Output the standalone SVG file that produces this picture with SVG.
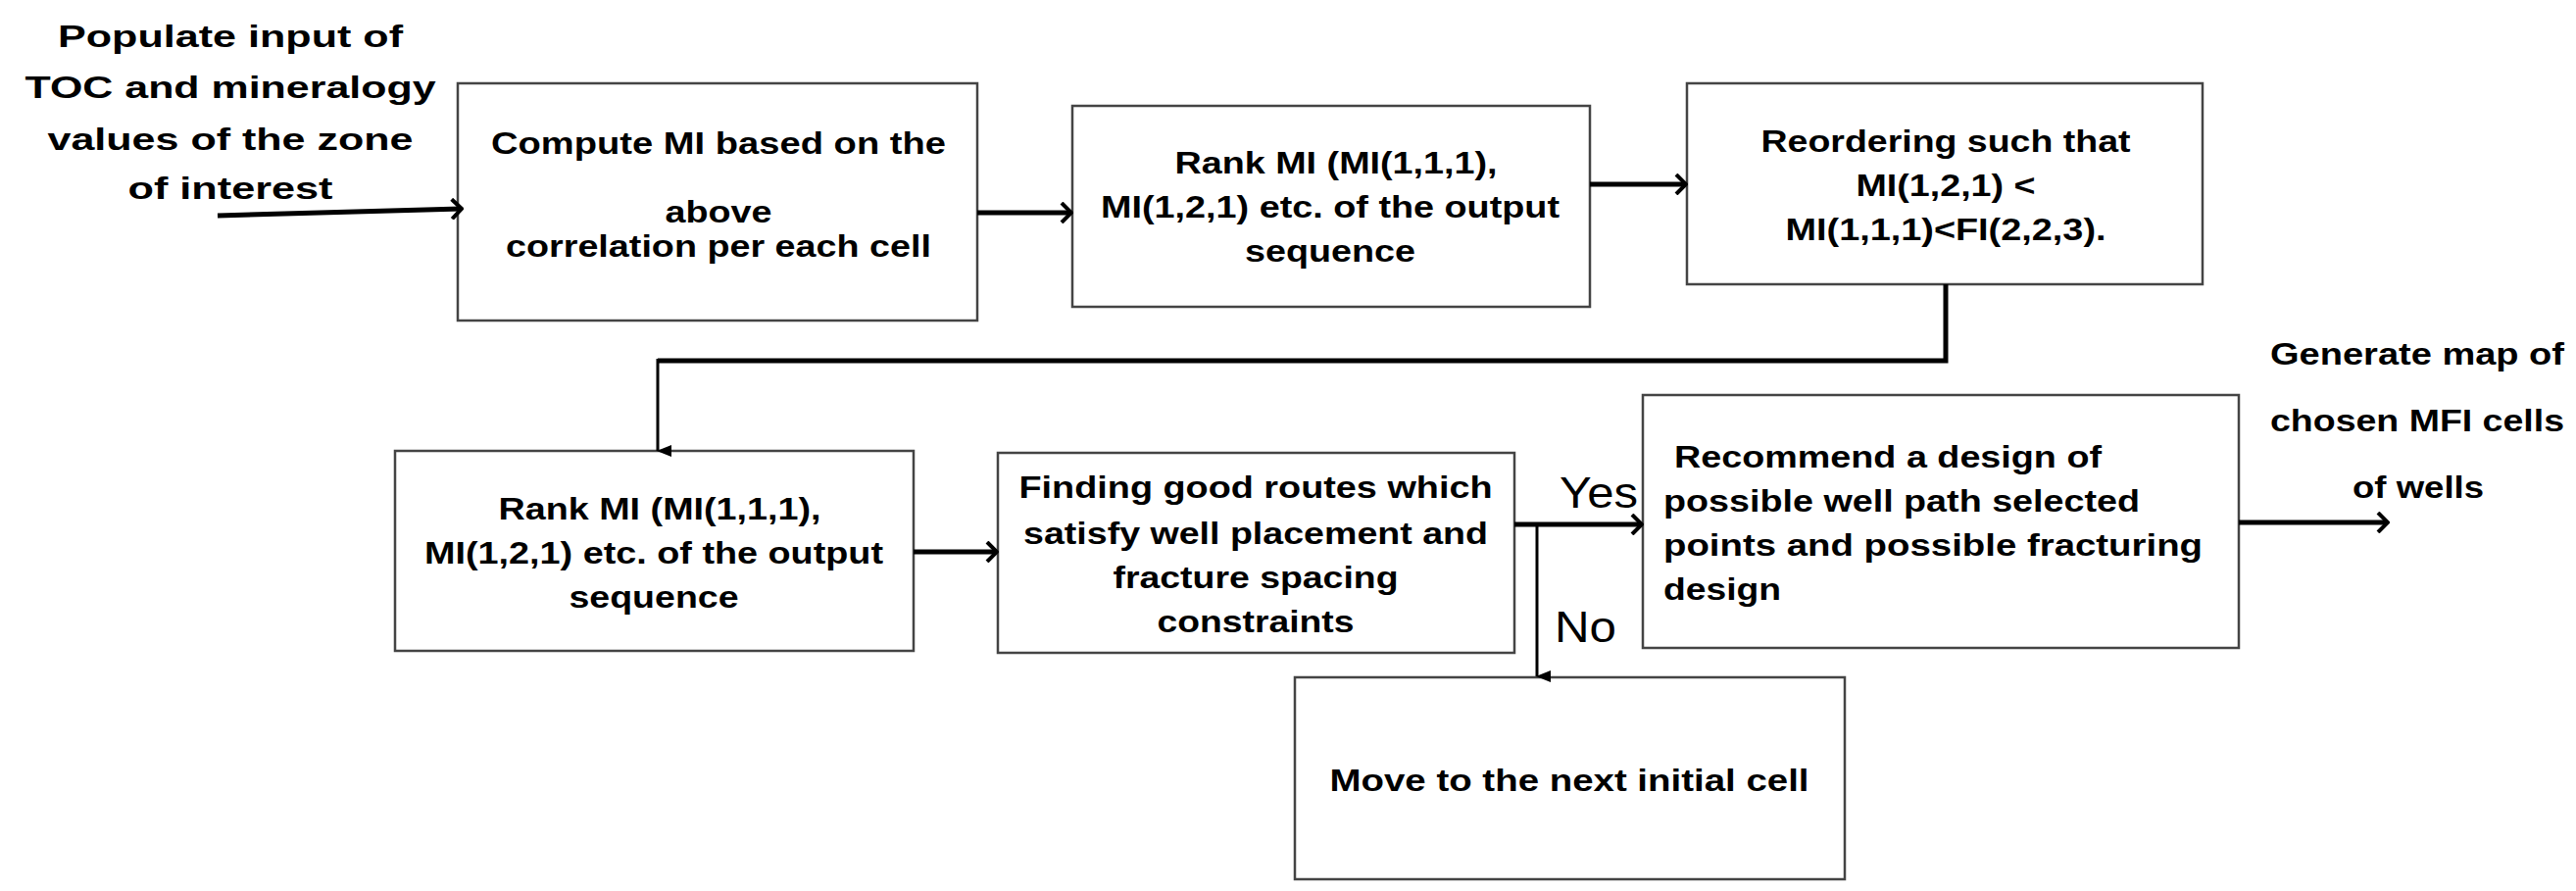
<svg xmlns="http://www.w3.org/2000/svg" width="2628" height="909" viewBox="0 0 2628 909">
<style>
.box{fill:#fff;stroke:#444;stroke-width:2.5}
.t{font-family:"Liberation Sans",Arial,sans-serif;font-weight:bold;font-size:32px;fill:#000}
.c{text-anchor:middle}
.yn{font-family:"Liberation Sans",Arial,sans-serif;font-size:44px;fill:#000}
.ln{fill:none;stroke:#000;stroke-width:5}
.thin{fill:none;stroke:#000;stroke-width:3}
</style>
<defs>
<marker id="ah2" markerWidth="14" markerHeight="22" refX="11" refY="11" orient="auto" markerUnits="userSpaceOnUse" viewBox="0 0 14 22">
<path d="M2,1 L12,11 L2,21" fill="none" stroke="#000" stroke-width="4"/>
</marker>
<marker id="ah3" markerWidth="14" markerHeight="16" refX="7" refY="14" orient="auto" markerUnits="userSpaceOnUse" viewBox="0 0 14 16">
<path d="M1,0 L7,15 L13,0 Z" fill="#000"/>
</marker>
</defs>
<g id="input-label">
<text class="t c" x="235" y="48" textLength="352" lengthAdjust="spacingAndGlyphs">Populate input of</text>
<text class="t c" x="235" y="100" textLength="419" lengthAdjust="spacingAndGlyphs">TOC and mineralogy</text>
<text class="t c" x="235" y="153" textLength="373" lengthAdjust="spacingAndGlyphs">values of the zone</text>
<text class="t c" x="235" y="203" textLength="209" lengthAdjust="spacingAndGlyphs">of interest</text>
</g>
<g id="compute">
<rect class="box" x="467" y="85" width="530" height="242"/>
<text class="t c" x="733" y="157" textLength="464" lengthAdjust="spacingAndGlyphs">Compute  MI based on the</text>
<text class="t c" x="733" y="227" textLength="109" lengthAdjust="spacingAndGlyphs">above</text>
<text class="t c" x="733" y="262" textLength="434" lengthAdjust="spacingAndGlyphs">correlation per each cell</text>
</g>
<g id="rank1">
<rect class="box" x="1094" y="108" width="528" height="205"/>
<text class="t c" x="1363" y="177" textLength="329" lengthAdjust="spacingAndGlyphs">Rank MI (MI(1,1,1),</text>
<text class="t c" x="1357" y="222" textLength="468" lengthAdjust="spacingAndGlyphs">MI(1,2,1) etc. of the output</text>
<text class="t c" x="1357" y="267" textLength="174" lengthAdjust="spacingAndGlyphs">sequence</text>
</g>
<g id="reorder">
<rect class="box" x="1721" y="85" width="526" height="205"/>
<text class="t c" x="1985" y="155" textLength="377" lengthAdjust="spacingAndGlyphs">Reordering such that</text>
<text class="t c" x="1985" y="200" textLength="183" lengthAdjust="spacingAndGlyphs">MI(1,2,1) &lt;</text>
<text class="t c" x="1985" y="245" textLength="327" lengthAdjust="spacingAndGlyphs">MI(1,1,1)&lt;FI(2,2,3).</text>
</g>
<g id="rank2">
<rect class="box" x="403" y="460" width="529" height="204"/>
<text class="t c" x="673" y="530" textLength="329" lengthAdjust="spacingAndGlyphs">Rank MI (MI(1,1,1),</text>
<text class="t c" x="667" y="575" textLength="468" lengthAdjust="spacingAndGlyphs">MI(1,2,1) etc. of the output</text>
<text class="t c" x="667" y="620" textLength="173" lengthAdjust="spacingAndGlyphs">sequence</text>
</g>
<g id="finding">
<rect class="box" x="1018" y="462" width="527" height="204"/>
<text class="t c" x="1281" y="508" textLength="483" lengthAdjust="spacingAndGlyphs">Finding good routes which</text>
<text class="t c" x="1281" y="555" textLength="474" lengthAdjust="spacingAndGlyphs">satisfy well placement and</text>
<text class="t c" x="1281" y="600" textLength="291" lengthAdjust="spacingAndGlyphs">fracture spacing</text>
<text class="t c" x="1281" y="645" textLength="201" lengthAdjust="spacingAndGlyphs">constraints</text>
</g>
<g id="recommend">
<rect class="box" x="1676" y="403" width="608" height="258"/>
<text class="t" x="1708" y="477" textLength="436" lengthAdjust="spacingAndGlyphs">Recommend a design of</text>
<text class="t" x="1697" y="522" textLength="486" lengthAdjust="spacingAndGlyphs">possible well path selected</text>
<text class="t" x="1697" y="567" textLength="550" lengthAdjust="spacingAndGlyphs">points  and possible fracturing</text>
<text class="t" x="1697" y="612" textLength="120" lengthAdjust="spacingAndGlyphs">design</text>
</g>
<g id="move">
<rect class="box" x="1321" y="691" width="561" height="206"/>
<text class="t c" x="1601" y="807" textLength="489" lengthAdjust="spacingAndGlyphs">Move to the next initial  cell</text>
</g>
<g id="output-label">
<text class="t c" x="2466" y="372" textLength="300" lengthAdjust="spacingAndGlyphs">Generate map of</text>
<text class="t c" x="2466" y="440" textLength="300" lengthAdjust="spacingAndGlyphs">chosen MFI cells</text>
<text class="t c" x="2467" y="508" textLength="134" lengthAdjust="spacingAndGlyphs">of wells</text>
</g>
<g id="connectors">
<line class="ln" x1="222" y1="220" x2="470" y2="213" marker-end="url(#ah2)"/>
<line class="ln" x1="997" y1="217" x2="1092" y2="217" marker-end="url(#ah2)"/>
<line class="ln" x1="1622" y1="188" x2="1719" y2="188" marker-end="url(#ah2)"/>
<polyline class="ln" points="1985,290 1985,368 671,368"/>
<line class="thin" x1="671" y1="366" x2="671" y2="460" marker-end="url(#ah3)"/>
<line class="ln" x1="932" y1="563" x2="1016" y2="563" marker-end="url(#ah2)"/>
<line class="ln" x1="1545" y1="535" x2="1674" y2="535" marker-end="url(#ah2)"/>
<line class="thin" x1="1568" y1="535" x2="1568" y2="690" marker-end="url(#ah3)"/>
<line class="ln" x1="2284" y1="533" x2="2435" y2="533" marker-end="url(#ah2)"/>
<text class="yn" x="1591" y="518" textLength="80" lengthAdjust="spacingAndGlyphs">Yes</text>
<text class="yn" x="1586" y="655" textLength="63" lengthAdjust="spacingAndGlyphs">No</text>
</g>
</svg>
